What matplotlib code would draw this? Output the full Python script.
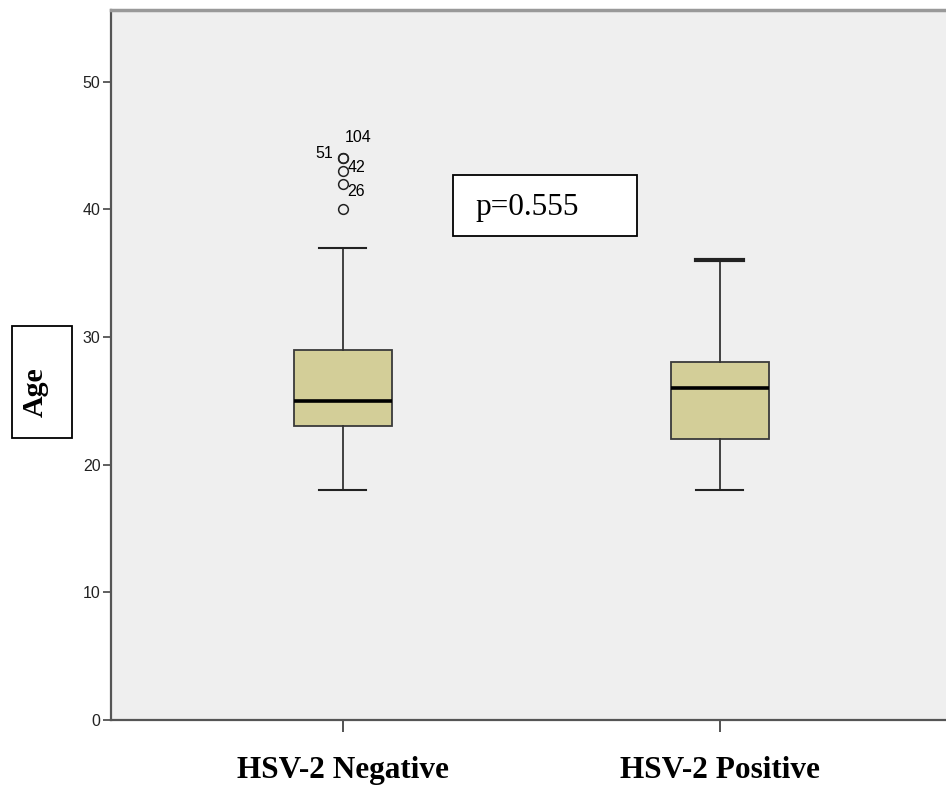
import matplotlib.pyplot as plt
from matplotlib.patches import Rectangle

# data (SPSS style boxplot)
groups = ["HSV-2 Negative", "HSV-2 Positive"]
q1 = [23, 22]
med = [25, 26]
q3 = [29, 28]
wlo = [18, 18]
whi = [37, 36]
outliers_neg = [40, 42, 43, 44, 44]
p_text = "p=0.555"

stats = []
for i in range(2):
    stats.append({"med": med[i], "q1": q1[i], "q3": q3[i],
                  "whislo": wlo[i], "whishi": whi[i],
                  "fliers": outliers_neg if i == 0 else []})

W, H = 946, 785
fig = plt.figure(figsize=(W / 100, H / 100), dpi=100)
ax = fig.add_axes([111 / W, 1 - 720 / H, 1 - 111 / W, (720 - 10) / H])
ax.set_facecolor("#efefef")

bp = ax.bxp(stats, positions=[0, 1], widths=0.26, capwidths=0.125, patch_artist=True,
            boxprops=dict(facecolor="#d3ce98", edgecolor="#3a3a3a", linewidth=1.3),
            medianprops=dict(color="black", linewidth=2.6),
            whiskerprops=dict(color="#333333", linewidth=1.3),
            capprops=dict(color="#222222", linewidth=1.5),
            flierprops=dict(marker="o", markerfacecolor="none", markeredgecolor="#222222",
                            markersize=7, markeredgewidth=1.1))
bp["caps"][3].set_linewidth(3)  # overlapping cases at the max

# outlier case numbers
lab_kw = dict(fontsize=11.5, family="Liberation Sans", va="center")
ax.text(0.013, 41.4, "26", ha="left", **lab_kw)
ax.text(0.013, 43.3, "42", ha="left", **lab_kw)
ax.text(-0.027, 44.4, "51", ha="right", **lab_kw)
ax.text(0.005, 45.6, "104", ha="left", **lab_kw)

ax.set_xlim(-0.615, 1.6)
ax.set_ylim(0, 55.6)
ax.set_yticks([0, 10, 20, 30, 40, 50])
ax.tick_params(axis="y", labelsize=11.5, length=6, width=1.2, color="#444444", pad=1.5)
for lab in ax.get_yticklabels():
    lab.set_family("Liberation Sans")
    lab.set_color("#222222")
ax.set_xticks([0, 1])
ax.set_xticklabels(groups, fontsize=22.5, fontweight="bold", family="Liberation Serif")
ax.tick_params(axis="x", length=8.6, width=1.3, color="#444444", pad=17)

for s in ["left", "bottom"]:
    ax.spines[s].set_color("#555555")
    ax.spines[s].set_linewidth(1.6)
ax.spines["top"].set_color("#999999")
ax.spines["top"].set_linewidth(2.5)
ax.spines["right"].set_visible(False)


def px_box(x0, y0, x1, y1):
    fig.patches.append(Rectangle((x0 / W, 1 - y1 / H), (x1 - x0) / W, (y1 - y0) / H,
                                 transform=fig.transFigure, facecolor="white",
                                 edgecolor="black", linewidth=1.3, zorder=5))


# p value box
px_box(453, 175, 637, 236)
fig.text(475 / W, 1 - 207 / H, p_text, fontsize=22.5, family="Liberation Serif",
         ha="left", va="center", zorder=6)

# y label box
px_box(12, 326, 72, 438)
fig.text(35 / W, 1 - 392 / H, "Age", rotation=90, fontsize=21.5, fontweight="bold",
         family="Liberation Serif", ha="center", va="center", zorder=6)

fig.savefig("out.png", dpi=100)
